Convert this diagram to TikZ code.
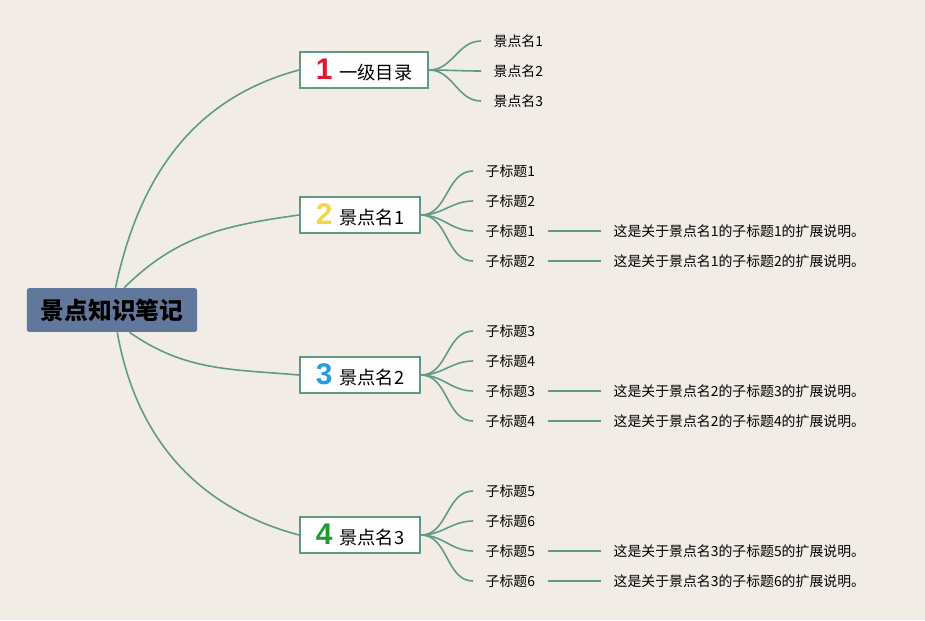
\documentclass[tikz,border=0pt]{standalone}
\usepackage{fontspec}
\setmainfont{Noto Sans CJK SC}
\newfontfamily\numfont{Liberation Sans}
\usepackage{xcolor}
\usetikzlibrary{positioning}

\definecolor{paper}{HTML}{F1ECE6}
\definecolor{rootblue}{HTML}{62779C}
\definecolor{branch}{HTML}{5F9A87}
\definecolor{nred}{HTML}{E0192F}
\definecolor{nyellow}{HTML}{F5D547}
\definecolor{nblue}{HTML}{2A9BDC}
\definecolor{ngreen}{HTML}{1E9A2E}

\begin{document}
\begin{tikzpicture}[x=0.02cm, y=-0.02cm,
    rootbox/.style={fill=rootblue, rounded corners=1.5pt, inner xsep=8pt,
      minimum height=25pt, font=\fontsize{13.5}{16}\selectfont\bfseries},
    topic/.style={draw=branch, line width=1.1pt, fill=white, anchor=west,
      inner xsep=9pt, minimum height=20.4pt, font=\fontsize{10.4}{12}\selectfont},
    leaf/.style={anchor=west, inner xsep=7pt, inner ysep=1pt,
      font=\fontsize{7.9}{9}\selectfont},
    link/.style={draw=branch, line width=0.9pt}]
  % paper
  \fill[paper] (0,0) rectangle (925,620);
  \useasboundingbox (0,0) rectangle (925,620);
  \def\num#1#2{{\numfont\bfseries\fontsize{17}{17}\selectfont\color{#1}#2}\hspace{4pt}}

  % centre and main topics
  \node[rootbox] (root) at (112,310) {景点知识笔记};
  \node[topic] (c1) at (299,70)  {\num{nred}{1}一级目录};
  \node[topic] (c2) at (299,215) {\num{nyellow}{2}景点名1};
  \node[topic] (c3) at (299,375) {\num{nblue}{3}景点名2};
  \node[topic] (c4) at (299,535) {\num{ngreen}{4}景点名3};

  \draw[link] ([xshift=2pt]root.north) to[out=78,in=195] (c1.west);
  \draw[link] ([xshift=7pt]root.north) to[out=45,in=188] (c2.west);
  \draw[link] ([xshift=10pt]root.south) to[out=-35,in=175] (c3.west);
  \draw[link] ([xshift=3pt]root.south) to[out=-80,in=165] (c4.west);

  % topic 1
  \node[leaf] (a1) at (481,41)  {景点名1};
  \node[leaf] (a2) at (481,71)  {景点名2};
  \node[leaf] (a3) at (481,101) {景点名3};
  \draw[link] (c1.east) to[out=0,in=180] (a1.west);
  \draw[link] (c1.east) to[out=0,in=180] (a2.west);
  \draw[link] (c1.east) to[out=0,in=180] (a3.west);

  % topic 2
  \node[leaf] (b1) at (473,171) {子标题1};
  \node[leaf] (b2) at (473,201) {子标题2};
  \node[leaf] (b3) at (473,231) {子标题1};
  \node[leaf] (b4) at (473,261) {子标题2};
  \node[leaf] (bx3) at (601,231) {这是关于景点名1的子标题1的扩展说明。};
  \node[leaf] (bx4) at (601,261) {这是关于景点名1的子标题2的扩展说明。};
  \foreach \n in {b1,b2,b3,b4}
    \draw[link] (c2.east) to[out=0,in=180] (\n.west);
  \draw[link] (b3.east) -- (bx3.west);
  \draw[link] (b4.east) -- (bx4.west);

  % topic 3
  \node[leaf] (d1) at (473,331) {子标题3};
  \node[leaf] (d2) at (473,361) {子标题4};
  \node[leaf] (d3) at (473,391) {子标题3};
  \node[leaf] (d4) at (473,421) {子标题4};
  \node[leaf] (dx3) at (601,391) {这是关于景点名2的子标题3的扩展说明。};
  \node[leaf] (dx4) at (601,421) {这是关于景点名2的子标题4的扩展说明。};
  \foreach \n in {d1,d2,d3,d4}
    \draw[link] (c3.east) to[out=0,in=180] (\n.west);
  \draw[link] (d3.east) -- (dx3.west);
  \draw[link] (d4.east) -- (dx4.west);

  % topic 4
  \node[leaf] (e1) at (473,491) {子标题5};
  \node[leaf] (e2) at (473,521) {子标题6};
  \node[leaf] (e3) at (473,551) {子标题5};
  \node[leaf] (e4) at (473,581) {子标题6};
  \node[leaf] (ex3) at (601,551) {这是关于景点名3的子标题5的扩展说明。};
  \node[leaf] (ex4) at (601,581) {这是关于景点名3的子标题6的扩展说明。};
  \foreach \n in {e1,e2,e3,e4}
    \draw[link] (c4.east) to[out=0,in=180] (\n.west);
  \draw[link] (e3.east) -- (ex3.west);
  \draw[link] (e4.east) -- (ex4.west);
\end{tikzpicture}
\end{document}
